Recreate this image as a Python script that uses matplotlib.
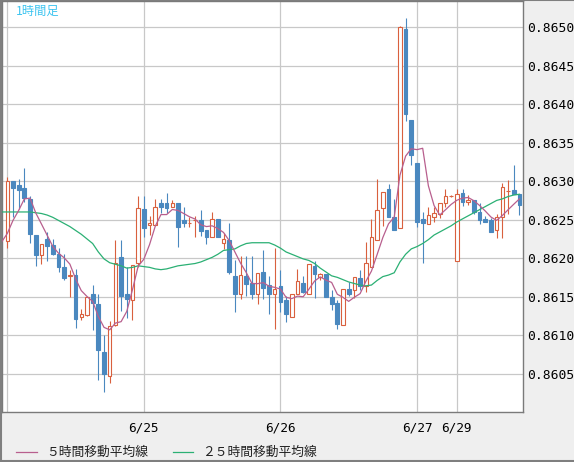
import numpy as np
import pandas as pd
import matplotlib
matplotlib.use('Agg')
import matplotlib.pyplot as plt
from matplotlib.lines import Line2D

# 1時間足 OHLC (index 0 = 6/24 0:00)
open_ = [0.86222, 0.86300, 0.86295, 0.86291, 0.86277, 0.86230, 0.86204, 0.86225, 0.86217, 0.86205,
         0.86188, 0.86177, 0.86178, 0.86123, 0.86126, 0.86154, 0.86141, 0.86078, 0.86047, 0.86113,
         0.86202, 0.86153, 0.86146, 0.86194, 0.86264, 0.86243, 0.86243, 0.86272, 0.86272, 0.86267,
         0.86272, 0.86249, 0.86246, 0.86249, 0.86250, 0.86236, 0.86227, 0.86251, 0.86220, 0.86224,
         0.86177, 0.86154, 0.86177, 0.86168, 0.86153, 0.86182, 0.86165, 0.86153, 0.86164, 0.86146,
         0.86124, 0.86154, 0.86168, 0.86154, 0.86190, 0.86176, 0.86180, 0.86150, 0.86142, 0.86113,
         0.86160, 0.86159, 0.86174, 0.86164, 0.86188, 0.86224, 0.86265, 0.86290, 0.86253, 0.86239,
         0.86498, 0.86380, 0.86324, 0.86251, 0.86244, 0.86253, 0.86258, 0.86272, 0.86281, 0.86196,
         0.86284, 0.86273, 0.86275, 0.86260, 0.86251, 0.86249, 0.86237, 0.86254, 0.86287, 0.86288,
         0.86283]
high = [0.86305, 0.86300, 0.86303, 0.86317, 0.86281, 0.86230, 0.86219, 0.86234, 0.86225, 0.86213,
        0.86206, 0.86184, 0.86186, 0.86134, 0.86150, 0.86165, 0.86154, 0.86100, 0.86118, 0.86224,
        0.86224, 0.86188, 0.86191, 0.86281, 0.86281, 0.86255, 0.86277, 0.86277, 0.86284, 0.86275,
        0.86272, 0.86266, 0.86253, 0.86255, 0.86262, 0.86236, 0.86260, 0.86251, 0.86233, 0.86246,
        0.86197, 0.86203, 0.86203, 0.86203, 0.86181, 0.86210, 0.86177, 0.86213, 0.86184, 0.86151,
        0.86153, 0.86186, 0.86177, 0.86192, 0.86196, 0.86181, 0.86180, 0.86158, 0.86145, 0.86160,
        0.86169, 0.86176, 0.86184, 0.86221, 0.86251, 0.86303, 0.86286, 0.86296, 0.86277, 0.86502,
        0.86512, 0.86380, 0.86324, 0.86260, 0.86267, 0.86266, 0.86272, 0.86290, 0.86282, 0.86290,
        0.86290, 0.86282, 0.86275, 0.86271, 0.86255, 0.86252, 0.86258, 0.86297, 0.86301, 0.86321,
        0.86283]
low = [0.86213, 0.86254, 0.86264, 0.86273, 0.86220, 0.86190, 0.86192, 0.86196, 0.86204, 0.86182,
       0.86171, 0.86150, 0.86109, 0.86119, 0.86125, 0.86106, 0.86041, 0.86026, 0.86038, 0.86112,
       0.86131, 0.86122, 0.86119, 0.86188, 0.86227, 0.86230, 0.86243, 0.86259, 0.86259, 0.86267,
       0.86214, 0.86241, 0.86240, 0.86228, 0.86229, 0.86218, 0.86227, 0.86228, 0.86212, 0.86180,
       0.86130, 0.86147, 0.86151, 0.86147, 0.86140, 0.86147, 0.86127, 0.86108, 0.86130, 0.86117,
       0.86124, 0.86154, 0.86155, 0.86154, 0.86148, 0.86171, 0.86149, 0.86132, 0.86108, 0.86113,
       0.86151, 0.86148, 0.86159, 0.86156, 0.86188, 0.86224, 0.86242, 0.86253, 0.86236, 0.86239,
       0.86378, 0.86321, 0.86241, 0.86194, 0.86244, 0.86247, 0.86252, 0.86267, 0.86280, 0.86196,
       0.86268, 0.86269, 0.86258, 0.86245, 0.86247, 0.86234, 0.86226, 0.86226, 0.86258, 0.86283,
       0.86256]
close = [0.86300, 0.86291, 0.86289, 0.86278, 0.86232, 0.86204, 0.86219, 0.86216, 0.86205, 0.86188,
         0.86174, 0.86178, 0.86121, 0.86128, 0.86150, 0.86142, 0.86080, 0.86050, 0.86112, 0.86194,
         0.86151, 0.86147, 0.86191, 0.86265, 0.86239, 0.86246, 0.86266, 0.86267, 0.86265, 0.86272,
         0.86240, 0.86246, 0.86246, 0.86250, 0.86235, 0.86228, 0.86251, 0.86228, 0.86225, 0.86182,
         0.86154, 0.86178, 0.86167, 0.86154, 0.86181, 0.86161, 0.86154, 0.86160, 0.86143, 0.86127,
         0.86153, 0.86170, 0.86156, 0.86192, 0.86180, 0.86180, 0.86149, 0.86141, 0.86115, 0.86160,
         0.86154, 0.86176, 0.86164, 0.86194, 0.86228, 0.86262, 0.86286, 0.86253, 0.86237, 0.86500,
         0.86387, 0.86334, 0.86247, 0.86246, 0.86256, 0.86259, 0.86272, 0.86281, 0.86281, 0.86283,
         0.86273, 0.86276, 0.86260, 0.86250, 0.86247, 0.86234, 0.86254, 0.86292, 0.86287, 0.86283,
         0.86269]
# closes before the first visible candle (needed for the 5-hour average)
prev_close = [0.86245, 0.86206, 0.86224, 0.86203, 0.86227]

# 25時間移動平均 (index -1 .. 90)
ma25 = [0.86260, 0.86260, 0.86260, 0.86260, 0.86260, 0.86260, 0.86259, 0.86258, 0.86256, 0.86253,
        0.86249, 0.86245, 0.86241, 0.86236, 0.86231, 0.86225, 0.86219, 0.86208, 0.86199, 0.86194,
        0.86192, 0.86190, 0.86187, 0.86188, 0.86190, 0.86189, 0.86188, 0.86186, 0.86185, 0.86186,
        0.86188, 0.86190, 0.86191, 0.86192, 0.86193, 0.86195, 0.86198, 0.86201, 0.86205, 0.86210,
        0.86211, 0.86212, 0.86216, 0.86219, 0.86220, 0.86220, 0.86220, 0.86220, 0.86217, 0.86213,
        0.86208, 0.86205, 0.86202, 0.86199, 0.86197, 0.86193, 0.86187, 0.86182, 0.86177, 0.86175,
        0.86172, 0.86169, 0.86167, 0.86165, 0.86164, 0.86165, 0.86171, 0.86176, 0.86178, 0.86181,
        0.86195, 0.86205, 0.86212, 0.86215, 0.86219, 0.86224, 0.86230, 0.86234, 0.86238, 0.86242,
        0.86247, 0.86251, 0.86255, 0.86259, 0.86263, 0.86267, 0.86271, 0.86275, 0.86277, 0.86280,
        0.86282, 0.86283]

tick_pos = [0, 24, 48, 72, 79]
tick_labels = ['', '6/25', '6/26', '6/27', '6/29']
y_ticks = [0.8605, 0.8610, 0.8615, 0.8620, 0.8625, 0.8630, 0.8635, 0.8640, 0.8645, 0.8650]

up_col = '#d9603e'
down_col = '#4a88bf'
ma5_col = '#b85f8e'
ma25_col = '#2bb074'
cjk = ['Noto Sans CJK JP', 'DejaVu Sans']

df = pd.DataFrame({'open': open_, 'high': high, 'low': low, 'close': close})
x = np.arange(len(df))
up = df['close'] >= df['open']

ma5 = pd.Series(prev_close + close).rolling(5).mean().dropna().values
x_ma = np.arange(-1, len(df))

fig = plt.figure(figsize=(5.74, 4.62), dpi=100, facecolor='#efefef')
ax = fig.add_axes([2 / 574, 50 / 462, 521 / 574, 411 / 462])
ax.set_facecolor('white')

# wicks
ax.vlines(x[up], df['low'][up], df['high'][up], color=up_col, lw=0.8, zorder=2)
ax.vlines(x[~up], df['low'][~up], df['high'][~up], color=down_col, lw=0.8, zorder=2)

# bodies
body_lo = np.minimum(df['open'], df['close'])
body_h = (df['close'] - df['open']).abs()
ax.bar(x[up], body_h[up], bottom=body_lo[up], width=0.62, facecolor='white',
       edgecolor=up_col, lw=0.8, zorder=3)
ax.bar(x[~up], body_h[~up], bottom=body_lo[~up], width=0.66, facecolor=down_col,
       edgecolor=down_col, lw=0.8, zorder=3)

# moving averages
ax.plot(x_ma, ma25, color=ma25_col, lw=0.9, zorder=4)
ax.plot(x_ma, ma5, color=ma5_col, lw=0.9, zorder=4)

ax.set_xlim(-0.93, 90.63)
ax.set_ylim(0.86000, 0.865342)
ax.set_xticks(tick_pos)
ax.set_xticklabels(tick_labels, family='DejaVu Sans Mono', fontsize=9.2)
ax.set_yticks(y_ticks)
ax.set_yticklabels(['%.4f' % v for v in y_ticks], family='DejaVu Sans Mono', fontsize=9.4)
ax.yaxis.tick_right()
ax.tick_params(axis='both', length=0)
ax.tick_params(axis='y', pad=3)
ax.tick_params(axis='x', pad=7)
ax.grid(True, color='#c8c8c8', lw=0.9, zorder=0)
ax.set_axisbelow(True)
for s in ax.spines.values():
    s.set_color('#7a7a7a')
    s.set_linewidth(1.0)

ax.text(14 / 521, 1 - 10 / 411, '1時間足', transform=ax.transAxes, color='#3cc4f0',
        fontsize=8.8, family=cjk, va='center', ha='left')

# legend at the bottom
ly = (462 - 452.4) / 462
fig.add_artist(Line2D([15.7 / 574, 36.6 / 574], [ly, ly], color=ma5_col, lw=0.9))
fig.text(45.8 / 574, ly, '５時間移動平均線', family=cjk, fontsize=9.2, va='center', color='#222222')
fig.add_artist(Line2D([173 / 574, 193.4 / 574], [ly, ly], color=ma25_col, lw=0.9))
fig.text(202.5 / 574, ly, '２５時間移動平均線', family=cjk, fontsize=9.2, va='center', color='#222222')

# outer frame
frame = dict(color='#7f7f7f', lw=1.5)
fig.add_artist(Line2D([0.001, 0.001], [0, 1], **frame))
fig.add_artist(Line2D([0, 1], [0.999, 0.999], **frame))
fig.add_artist(Line2D([0, 1], [0.002, 0.002], **frame))

fig.savefig('out.png', dpi=100, facecolor=fig.get_facecolor())
